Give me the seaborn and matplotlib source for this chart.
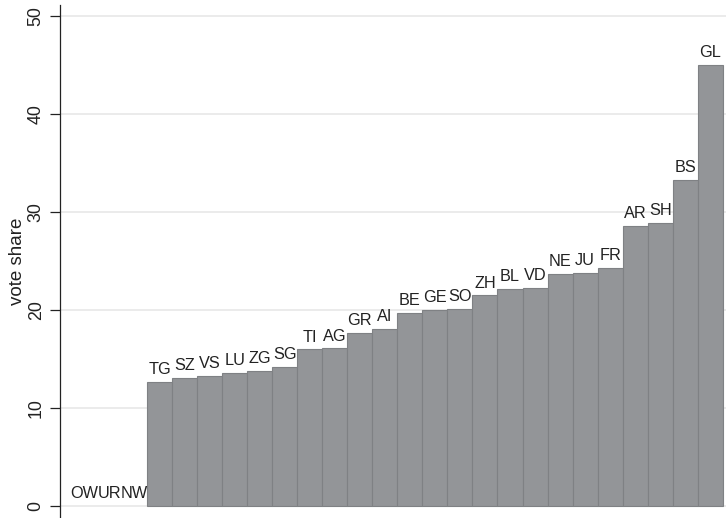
import matplotlib
matplotlib.use("Agg")
import matplotlib.pyplot as plt
import seaborn as sns
import pandas as pd

cantons = ["OW", "UR", "NW", "TG", "SZ", "VS", "LU", "ZG", "SG", "TI", "AG", "GR", "AI",
           "BE", "GE", "SO", "ZH", "BL", "VD", "NE", "JU", "FR", "AR", "SH", "BS", "GL"]
vote_share = [0, 0, 0, 12.7, 13.1, 13.3, 13.6, 13.8, 14.2, 16.0, 16.1, 17.7, 18.1,
              19.7, 20.0, 20.1, 21.5, 22.2, 22.3, 23.7, 23.8, 24.3, 28.6, 28.9, 33.3, 45.0]
yticks = [0, 10, 20, 30, 40, 50]

df = pd.DataFrame({"canton": cantons, "share": vote_share})

sns.set_theme(style="white")
plt.rcParams["font.family"] = ["Liberation Sans", "DejaVu Sans"]

fig = plt.figure(figsize=(7.26, 5.18), dpi=100)
ax = fig.add_axes([60 / 726, 0.0, 1 - 60 / 726, 1 - 5 / 518])

sns.barplot(data=df, x="canton", y="share", color="#939598", saturation=1,
            width=1.0, edgecolor="#7f8184", linewidth=0.8, ax=ax, zorder=2)

for patch in ax.containers[0]:
    if patch.get_height() == 0:
        patch.set_linewidth(0)

ax.bar_label(ax.containers[0], labels=cantons, padding=3.5, fontsize=11.7, color="#222222")

ax.set_xlim(-0.98, 25.63)
ax.set_ylim(-1.19, 51.12)
ax.set_yticks(yticks)
ax.set_yticklabels([str(t) for t in yticks], rotation=90, va="center", fontsize=12.8, color="#222222")
ax.tick_params(axis="y", length=7, width=0.9, color="#222222", pad=4, left=True)
ax.set_xticks([])
ax.set_xlabel("")
ax.set_ylabel("vote share", fontsize=13.5, color="#222222", labelpad=1)
ax.grid(axis="y", color="#e8e8e8", linewidth=1.2, zorder=0)
ax.set_axisbelow(True)
for s in ["top", "right", "bottom"]:
    ax.spines[s].set_visible(False)
ax.spines["left"].set_color("#222222")
ax.spines["left"].set_linewidth(0.9)

fig.savefig("out.png", dpi=100)
